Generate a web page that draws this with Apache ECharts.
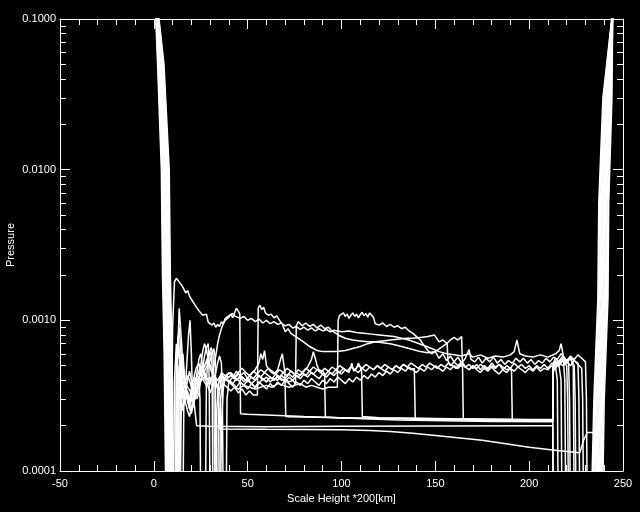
<!DOCTYPE html>
<html>
<head>
<meta charset="utf-8">
<script src="https://cdn.jsdelivr.net/npm/echarts@6/dist/echarts.min.js"></script>
<style>
html,body{margin:0;padding:0;background:#000;}
#chart{width:640px;height:512px;}
</style>
</head>
<body>
<div id="chart"></div>
<script>
// ---- tick labels / axis values ----
const xTickValues = [-50, 0, 50, 100, 150, 200, 250];
const yMajorTicks = [0.0001, 0.001, 0.01, 0.1];
const yMinorTicks = [0.0002,0.0003,0.0004,0.0005,0.0006,0.0007,0.0008,0.0009,
                     0.002,0.003,0.004,0.005,0.006,0.007,0.008,0.009,
                     0.02,0.03,0.04,0.05,0.06,0.07,0.08,0.09];
const xTitle = 'Scale Height *200[km]';
const yTitle = 'Pressure';

// ---- profiles: [scale height, pressure] ----
const s1 = [[0.6,0.2],[0.8,0.12],[2.0,0.05],[4.0,0.01],[4.6,0.002],[5.5,0.0006],[6.5,0.00005],
[9.0,0.00005],[10.0,0.0009],[11.0,0.0018],[12.0,0.0019],[13.5,0.0018],[15,0.0017],[16,0.00165],[17,0.00152],[18,0.00158],[19,0.00145],[20,0.00138],[21,0.0014],[22,0.00126],[23,0.00124],[24,0.00116],[25,0.00119],[26,0.00108],[27,0.00107],[28,0.0011],[29,0.00097],[30,0.001],[31,0.00093],[32,0.00096],[33,0.0009],[34,0.00094],[35,0.00091],[36,0.00098],[37,0.00095],[38,0.00103],[39,0.001],[40,0.00107],[41,0.00105],[42,0.00111],[43,0.00107],[44,0.0011],[46,0.00103],[48,0.00106],[50,0.001],[52,0.00103],[54,0.00098],[56,0.00102],[58,0.00096],[60,0.001],[62,0.00095],[64,0.00098],[66,0.00094],[68,0.00096],[70,0.00092],[72,0.00094],[74,0.00089],[76,0.00091],[78,0.00087],[80,0.0009],[82,0.00086],[84,0.00089],[86,0.00085],[88,0.00088],[90,0.00085],[92,0.00087],[94,0.00084],[96,0.00086],[100,0.00084],[104,0.00085],[108,0.00083],[112,0.00082],[116,0.00081],[120,0.0008],[124,0.00079],[128,0.00078],[132,0.00076],[136,0.00074],[140,0.00071],[144,0.00068],[148,0.00065],[152,0.00062],[156,0.0006],[160,0.00059],[164,0.00058],[168,0.0006],[170,0.00057],[174,0.00059],[178,0.00056],[182,0.00058],[186,0.00057],[190,0.00059],[192,0.00062],[193.5,0.00074],[195,0.0006],[198,0.00058],[202,0.00057],[206,0.00059],[210,0.00057],[214,0.0006],[216,0.00063],[217,0.0007],[218,0.0006],[219,0.0004],[219.5,0.00005],
[236.0,0.00005],[237.3,0.0003],[239.3,0.0014],[239.8,0.006],[241.7,0.03],[244.3,0.1],[245.3,0.2]];

const s2 = [[0.7,0.2],[0.9,0.12],[2.3,0.05],[4.35,0.01],[4.95,0.002],[5.85,0.0006],[6.85,0.00005],
[11.5,0.00005],[12,0.0005],[13,0.0008],[14,0.0005],[15,0.00038],[16,0.00033],[17,0.0003],[18,0.00034],[19,0.00028],[20,0.00032],[21,0.00037],[23,0.00042],[25,0.0005],[27,0.00045],[29,0.0004],[31,0.00037],[33,0.00036],[35,0.00039],[37,0.00042],[39,0.0004],[41,0.00038],[43,0.00036],[45,0.00035],[48,0.00037],[51,0.00036],[54,0.00035],[57,0.00036],[60,0.00037],[63,0.00036],[66,0.00038],[69,0.00037],[72,0.00036],[75,0.00037],[78,0.00038],[81,0.00036],[84,0.00037],[87,0.00036],[90,0.00035],[93,0.00036],[96,0.00036],[97.8,0.00036],[98.2,0.001],[99,0.00108],[100,0.00105],[101,0.00112],[102,0.00106],[103,0.0011],[104,0.00103],[105,0.00108],[106,0.00112],[107,0.00106],[108,0.0011],[109,0.00104],[110,0.00109],[111,0.00113],[112,0.00107],[113,0.00111],[114,0.00105],[115,0.00112],[116,0.00115],[117,0.00105],[118,0.00095],[120,0.00093],[122,0.00096],[124,0.00091],[126,0.00094],[128,0.0009],[130,0.00092],[132,0.00088],[134,0.0009],[136,0.00085],[138,0.00082],[140,0.00078],[142,0.00074],[144,0.00068],[146,0.00063],[148,0.0006],[150,0.00062],[152,0.00056],[154,0.0006],[156,0.00054],[158,0.00058],[160,0.00053],[162,0.00057],[164,0.00052],[166,0.00056],[168,0.00064],[169,0.00055],[171,0.00053],[173,0.00057],[175,0.00052],[177,0.00056],[179,0.00053],[181,0.00057],[183,0.00052],[185,0.00055],[187,0.00051],[189,0.00054],[191,0.00052],[193,0.00056],[195,0.00053],[197,0.00056],[199,0.00052],[201,0.00055],[203,0.00051],[205,0.00054],[207,0.00052],[209,0.00056],[211,0.00053],[213,0.00057],[215,0.00055],[217,0.0006],[219,0.00056],[221,0.00052],[221.5,0.0003],[222,0.00005],
[236.5,0.00005],[237.7,0.0003],[239.8,0.0014],[240.2,0.006],[242.1,0.03],[244.3,0.1],[245.3,0.2]];

const s3 = [[0.8,0.2],[1.0,0.12],[2.6,0.05],[4.7,0.01],[5.3,0.002],[6.2,0.0006],[7.2,0.00005],
[10.5,0.00005],[11,0.0004],[12,0.0007],[13,0.00045],[14,0.00032],[15,0.00025],[16,0.00028],[17,0.00035],[18,0.0003],[19,0.00026],[20,0.0003],[21,0.00036],[22,0.00042],[24,0.00038],[26,0.00041],[28,0.00037],[30,0.0004],[32,0.00043],[34,0.0004],[36,0.00044],[38,0.00041],[40,0.00039],[42,0.00042],[44,0.0004],[46,0.00043],[48,0.00041],[50,0.00039],[52,0.00042],[54,0.0004],[56,0.00043],[58,0.00041],[60,0.00039],[62,0.00042],[64,0.0004],[66,0.00042],[68,0.0004],[70,0.00041],[72,0.00039],[74,0.0004],[75.5,0.00038],[75.9,0.00092],[77,0.00098],[79,0.00092],[81,0.00096],[83,0.00091],[85,0.00094],[87,0.00089],[89,0.00093],[91,0.00088],[93,0.0009],[95,0.00085],[97,0.00082],[99,0.00079],[102,0.00076],[106,0.00074],[110,0.00073],[114,0.00072],[118,0.00072],[122,0.00073],[126,0.00074],[130,0.00075],[134,0.00076],[138,0.00076],[142,0.00077],[146,0.00078],[149.5,0.0008],[152,0.00072],[154,0.00074],[156.3,0.0007],[156.7,0.00054],[158,0.0005],[160,0.00053],[162,0.0005],[164,0.00053],[166,0.00049],[168,0.00051],[170,0.00048],[172,0.00051],[174,0.00047],[176,0.0005],[178,0.00048],[180,0.00052],[182,0.00049],[184,0.00051],[186,0.00047],[188,0.0005],[190,0.00048],[192,0.00052],[194,0.00049],[196,0.00051],[198,0.00048],[200,0.0005],[202,0.00047],[204,0.0005],[206,0.00048],[208,0.00051],[210,0.00048],[212,0.00052],[214,0.0005],[216,0.00054],[218,0.00058],[220,0.00054],[222,0.00056],[224,0.0005],[224.5,0.0003],[225,0.00005],
[237.0,0.00005],[238.2,0.0003],[240.2,0.0014],[240.6,0.006],[242.5,0.03],[244.3,0.1],[245.3,0.2]];

const s4 = [[0.9,0.2],[1.1,0.12],[2.8,0.05],[5.05,0.01],[5.65,0.002],[6.55,0.0006],[7.55,0.00005],
[12,0.00005],[12.5,0.0006],[13.5,0.0009],[14.5,0.0006],[15.5,0.0004],[17,0.00034],[18,0.00029],[19,0.00026],[20,0.00024],[21,0.00028],[22,0.00034],[23,0.00045],[24,0.00055],[25,0.0006],[26,0.0005],[27,0.00042],[29,0.00038],[31,0.0004],[33,0.00037],[35,0.00035],[37,0.00038],[39,0.00036],[41,0.00034],[43,0.00036],[45,0.00033],[47,0.00035],[49,0.00032],[51,0.00034],[53,0.00032],[55.2,0.00032],[55.6,0.0012],[56.5,0.00126],[57.5,0.00118],[58.5,0.00122],[59.5,0.00112],[61,0.00108],[62.5,0.0011],[64,0.00104],[65.5,0.00107],[67,0.001],[68.5,0.00094],[70,0.00084],[71.5,0.00088],[73,0.00082],[75,0.00079],[77,0.00076],[79,0.00073],[81,0.0007],[83,0.00067],[85,0.00065],[87,0.00063],[90,0.00062],[94,0.00062],[98,0.00062],[102,0.00063],[106,0.00065],[110,0.00067],[114,0.0007],[118,0.00072],[122,0.00071],[126,0.0007],[130,0.00068],[134,0.00066],[138,0.00064],[142,0.00062],[146,0.00061],[150,0.00062],[153,0.00066],[156,0.0007],[158,0.00074],[160,0.00077],[162,0.00074],[164,0.00078],[164.4,0.00053],[166,0.00049],[168,0.00047],[170,0.0005],[172,0.00047],[174,0.00045],[176,0.00048],[178,0.00046],[180,0.00049],[182,0.00046],[184,0.00044],[186,0.00047],[188,0.00045],[190,0.00048],[192,0.00046],[194,0.00049],[196,0.00047],[198,0.00045],[200,0.00048],[202,0.00046],[204,0.00049],[206,0.00046],[208,0.00048],[210,0.00047],[212,0.0005],[214,0.00048],[216,0.00052],[218,0.0005],[220,0.00053],[222,0.0005],[224,0.00054],[226,0.00051],[228,0.00048],[228.5,0.0003],[229,0.00005],
[237.5,0.00005],[238.6,0.0003],[240.7,0.0014],[241.1,0.006],[242.9,0.03],[244.4,0.1],[245.4,0.2]];

const s5 = [[1.0,0.2],[1.2,0.12],[3.1,0.05],[5.4,0.01],[6.0,0.002],[6.9,0.0006],[7.9,0.00005],
[13,0.00005],[13.5,0.0005],[14.5,0.0003],[15.5,0.00026],[16.5,0.0003],[17.5,0.0005],[18.5,0.0008],[19.3,0.001],[20,0.0006],[20.5,0.00035],[21.5,0.00028],[22.8,0.0002],[30,0.000198],[60,0.000197],[100,0.000198],[150,0.000199],[200,0.0002],[212.6,0.0002],[212.8,0.00005],
[233.0,0.00005],[234.5,0.0003],[236.6,0.0014],[237.1,0.006],[239.3,0.03],[244.0,0.1],[245.0,0.2]];

const s6 = [[1.1,0.2],[1.3,0.12],[3.4,0.05],[5.75,0.01],[6.35,0.002],[7.25,0.0006],[8.25,0.00005],
[11.5,0.00005],[12,0.0004],[13,0.0007],[14,0.0005],[15,0.00036],[16,0.0003],[17,0.00035],[18,0.0004],[19,0.00046],[20,0.0004],[21,0.00034],[22,0.0003],[23,0.00033],[24,0.0004],[25,0.0005],[26,0.00062],[27,0.0007],[28,0.00064],[29,0.00055],[30,0.00048],[31,0.00045],[32,0.0005],[33,0.00058],[34,0.0007],[35,0.0008],[36,0.00088],[37,0.00095],[38,0.001],[39,0.00098],[40,0.00105],[41,0.0011],[42,0.00104],[43,0.00112],[44,0.0012],[45,0.00115],[45.8,0.0011],[46.2,0.00024],[50,0.000238],[80,0.00023],[130,0.000218],[180,0.000213],[212.6,0.000212],[212.8,0.00045],[214,0.0005],[215,0.0004],[215.5,0.00005],
[233.5,0.00005],[235.0,0.0003],[237.0,0.0014],[237.5,0.006],[239.7,0.03],[244.0,0.1],[245.0,0.2]];

const s7 = [[1.2,0.2],[1.4,0.12],[3.7,0.05],[6.1,0.01],[6.7,0.002],[7.6,0.0006],[8.6,0.00005],
[14,0.00005],[14.5,0.0004],[15.5,0.0006],[16.5,0.0004],[17.5,0.00031],[18.5,0.00028],[19.5,0.00033],[21,0.0004],[22.5,0.00048],[24,0.00052],[25,0.00047],[26,0.00042],[28,0.0004],[30,0.00042],[32,0.00038],[34,0.0004],[36,0.00043],[38,0.00041],[40,0.00045],[42,0.00042],[44,0.00046],[46,0.00043],[48,0.00045],[50,0.00041],[52,0.00044],[54,0.00047],[56,0.00052],[57,0.0006],[58,0.00055],[59,0.00063],[60,0.0005],[62,0.00046],[64,0.00044],[66,0.00047],[67.5,0.00055],[68.5,0.0006],[69.3,0.0005],[69.8,0.00046],[70.3,0.00023],[72,0.000229],[100,0.000226],[150,0.000222],[200,0.00022],[212.6,0.00022],[212.8,0.0005],[214,0.00052],[216,0.00049],[217,0.0004],[217.5,0.00005],
[234.0,0.00005],[235.4,0.0003],[237.5,0.0014],[238.0,0.006],[240.1,0.03],[244.1,0.1],[245.1,0.2]];

const s8 = [[1.3,0.2],[1.5,0.12],[4.0,0.05],[6.45,0.01],[7.05,0.002],[7.95,0.0006],[8.95,0.00005],
[12.5,0.00005],[13,0.0003],[14,0.00045],[15,0.0004],[16,0.00033],[17,0.00028],[18,0.00025],[19,0.00023],[20,0.00026],[21,0.0003],[22,0.00035],[23,0.0003],[24,0.00033],[25,0.0004],[26,0.00048],[27,0.00058],[28,0.00066],[29,0.0007],[29.5,0.0004],[30,0.00005],[33,0.00005],[33.5,0.00025],[34.5,0.00038],[36,0.00045],[38,0.00043],[40,0.00042],[42,0.00044],[44,0.0004],[46,0.00042],[48,0.00039],[50,0.00041],[52,0.00038],[54,0.0004],[56,0.00043],[58,0.0004],[60,0.00042],[62,0.00039],[64,0.00041],[66,0.0004],[68,0.00043],[70,0.00041],[72,0.00044],[74,0.00042],[76,0.00045],[78,0.00043],[80,0.00046],[82,0.00049],[84,0.00055],[85,0.00062],[86,0.00056],[87,0.0005],[88,0.00047],[90,0.00046],[91,0.00044],[91.4,0.000228],[100,0.000225],[150,0.00022],[200,0.000217],[212.6,0.000216],[212.8,0.00005],
[234.5,0.00005],[235.9,0.0003],[237.9,0.0014],[238.4,0.006],[240.5,0.03],[244.1,0.1],[245.1,0.2]];

const s9 = [[1.4,0.2],[1.6,0.12],[4.2,0.05],[6.8,0.01],[7.4,0.002],[8.3,0.0006],[9.3,0.00005],
[12,0.00005],[12.5,0.0005],[13.5,0.0012],[14.5,0.0008],[15.5,0.0005],[16.5,0.0004],[18,0.00036],[20,0.00033],[22,0.00037],[24,0.00042],[26,0.00047],[28,0.00052],[29.5,0.00058],[30.5,0.00062],[31,0.0005],[31.5,0.00005],[34,0.00005],[34.5,0.0003],[36,0.00042],[38,0.0004],[40,0.0004],[42,0.00038],[44,0.00041],[46,0.00039],[48,0.00037],[50,0.0004],[52,0.00038],[54,0.00036],[56,0.00038],[58,0.00041],[60,0.00039],[62,0.00042],[64,0.0004],[66,0.00043],[68,0.00041],[70,0.00039],[72,0.00042],[74,0.0004],[76,0.00043],[78,0.00041],[80,0.00044],[82,0.00042],[84,0.00045],[86,0.00043],[88,0.00041],[90,0.00044],[92,0.00042],[94,0.00045],[96,0.00043],[98,0.00046],[100,0.00044],[102,0.00047],[104,0.00045],[105.5,0.00052],[106.5,0.00046],[108,0.00048],[109,0.00052],[110,0.00049],[110.7,0.00046],[111.1,0.00023],[120,0.000226],[160,0.000222],[200,0.000219],[212.6,0.000218],[212.8,0.00047],[214,0.00052],[216,0.0005],[218,0.00054],[220,0.0005],[220.5,0.0003],[221,0.00005],
[235.0,0.00005],[236.3,0.0003],[238.4,0.0014],[238.9,0.006],[240.9,0.03],[244.2,0.1],[245.2,0.2]];

const s10 = [[1.5,0.2],[1.7,0.12],[4.5,0.05],[7.15,0.01],[7.75,0.002],[8.65,0.0006],[9.65,0.00005],
[13,0.00005],[13.5,0.0004],[14.5,0.0006],[15.5,0.00045],[17,0.00035],[19,0.0003],[21,0.00034],[23,0.00039],[25,0.00044],[27,0.0005],[28.5,0.00056],[29.5,0.0006],[30.5,0.00066],[31.5,0.0006],[32,0.0004],[32.5,0.00005],[35,0.00005],[35.5,0.0003],[37,0.0004],[39,0.00041],[41,0.00043],[43,0.00041],[45,0.00044],[47,0.00042],[49,0.0004],[51,0.00043],[53,0.00041],[55,0.00044],[57,0.00042],[59,0.00045],[61,0.00043],[63,0.00041],[65,0.00044],[67,0.00042],[69,0.00045],[71,0.00043],[73,0.00046],[75,0.00044],[77,0.00042],[79,0.00045],[81,0.00043],[83,0.00046],[85,0.00044],[87,0.00047],[89,0.00045],[91,0.00043],[93,0.00046],[95,0.00044],[97,0.00047],[99,0.00045],[101,0.00048],[103,0.00046],[105,0.00049],[107,0.00047],[109,0.00045],[111,0.00048],[113,0.00046],[115,0.00049],[117,0.00047],[119,0.0005],[121,0.00048],[123,0.00046],[125,0.00049],[127,0.00047],[129,0.0005],[131,0.00048],[133,0.00051],[135,0.00049],[137,0.00047],[138.8,0.00048],[139.3,0.000222],[160,0.000219],[200,0.000216],[212.6,0.000215],[212.8,0.00049],[214,0.00053],[216,0.00051],[218,0.00055],[220,0.00052],[222,0.00056],[223.5,0.0005],[224,0.00005],
[235.5,0.00005],[236.8,0.0003],[238.9,0.0014],[239.3,0.006],[241.3,0.03],[244.2,0.1],[245.2,0.2]];

const s11 = [[1.6,0.2],[1.85,0.12],[4.8,0.05],[7.5,0.01],[8.1,0.002],[9.0,0.0006],[10.0,0.00005],
[14,0.00005],[14.5,0.0003],[15.5,0.0005],[16.5,0.0004],[18,0.00032],[20,0.00029],[22,0.00033],[24,0.00038],[26,0.00043],[28,0.00049],[30,0.00054],[31,0.0006],[32,0.00065],[32.8,0.00055],[33.2,0.00005],[35.5,0.00005],[36,0.0002],[37,0.00035],[38,0.00042],[39,0.00044],[41,0.00045],[43,0.00042],[45,0.00045],[47,0.00048],[49,0.00045],[51,0.00043],[53,0.00046],[55,0.00044],[57,0.00047],[59,0.00045],[61,0.00048],[63,0.00046],[65,0.00044],[67,0.00047],[69,0.00045],[71,0.00048],[73,0.00046],[75,0.00044],[77,0.00047],[79,0.00045],[81,0.00048],[83,0.00046],[85,0.00049],[87,0.00047],[89,0.00045],[91,0.00048],[93,0.00046],[95,0.00049],[97,0.00047],[99,0.0005],[101,0.00048],[103,0.00046],[105,0.00049],[107,0.00047],[109,0.0005],[111,0.00048],[113,0.00051],[115,0.00049],[117,0.00047],[119,0.0005],[121,0.00048],[123,0.00051],[125,0.00049],[127,0.00047],[129,0.0005],[131,0.00048],[133,0.00051],[135,0.00049],[137,0.00052],[139,0.0005],[141,0.00048],[143,0.00051],[145,0.00049],[147,0.00052],[149,0.0005],[151,0.00048],[153,0.00051],[155,0.00049],[157,0.00052],[159,0.0005],[161,0.00048],[163,0.00051],[164.5,0.00049],[164.9,0.00022],[180,0.000218],[200,0.000215],[212.6,0.000214],[212.8,0.0005],[214,0.00054],[216,0.00052],[218,0.00056],[220,0.00053],[222,0.00057],[224,0.00054],[226,0.00052],[226.5,0.0003],[227,0.00005],
[238.0,0.00005],[239.1,0.0003],[241.1,0.0014],[241.5,0.006],[243.3,0.03],[244.4,0.1],[245.4,0.2]];

const s12 = [[1.7,0.2],[1.95,0.12],[5.1,0.05],[7.85,0.01],[8.45,0.002],[9.35,0.0006],[10.35,0.00005],
[15.5,0.00005],[16,0.0003],[17,0.00035],[18,0.00031],[19,0.00027],[20,0.00025],[21,0.00027],[22,0.00031],[23,0.00036],[24,0.00041],[25,0.00046],[26,0.0005],[27,0.00046],[28,0.0004],[29,0.00036],[30,0.00033],[31,0.00036],[32,0.0004],[33,0.00045],[34,0.00052],[35,0.00058],[36,0.00052],[36.5,0.00035],[37,0.00005],[38.5,0.00005],[39,0.0003],[40,0.0004],[42,0.00038],[44,0.00036],[46,0.00039],[48,0.00037],[50,0.00035],[52,0.00038],[54,0.00036],[56,0.00039],[58,0.00037],[60,0.00035],[62,0.00038],[64,0.00036],[66,0.00039],[68,0.00037],[70,0.0004],[72,0.00038],[74,0.00036],[76,0.00039],[78,0.00037],[80,0.0004],[82,0.00038],[84,0.00041],[86,0.00039],[88,0.00037],[90,0.0004],[92,0.00038],[94,0.00041],[96,0.00039],[98,0.00042],[100,0.0004],[102,0.00038],[104,0.00041],[106,0.00039],[108,0.00042],[110,0.0004],[112,0.00043],[114,0.00041],[116,0.00044],[118,0.00042],[120,0.00045],[122,0.00043],[124,0.00046],[126,0.00044],[128,0.00047],[130,0.00045],[132,0.00048],[134,0.00046],[136,0.00049],[138,0.00047],[140,0.00045],[142,0.00048],[144,0.00046],[146,0.00049],[148,0.00047],[150,0.0005],[152,0.00048],[154,0.00046],[156,0.00049],[158,0.00047],[160,0.0005],[162,0.00048],[164,0.00051],[166,0.00049],[168,0.00047],[170,0.0005],[172,0.00048],[174,0.00051],[176,0.00049],[178,0.00047],[180,0.0005],[182,0.00048],[184,0.00051],[186,0.00049],[188,0.00047],[190,0.00048],[190.6,0.00046],[191,0.00022],[200,0.000218],[212.6,0.000217],[212.8,0.00052],[214,0.00056],[216,0.00053],[218,0.00057],[220,0.00054],[222,0.00058],[224,0.00055],[226,0.00059],[228,0.00056],[230,0.00053],[230.5,0.0003],[231,0.00005],
[238.5,0.00005],[239.5,0.0003],[241.6,0.0014],[242.0,0.006],[243.7,0.03],[244.5,0.1],[245.5,0.2]];

const s13 = [[1.8,0.2],[2.05,0.12],[5.4,0.05],[8.2,0.01],[8.8,0.002],[9.7,0.0006],[10.7,0.00005],
[13.5,0.00005],[14,0.0002],[15,0.0003],[16,0.00036],[17,0.0004],[18,0.00043],[19,0.0004],[20,0.00036],[21,0.00032],[22,0.0003],[23,0.00033],[24,0.0004],[24.6,0.0003],[25,0.00005],[27.5,0.00005],[28,0.0004],[29,0.00058],[30,0.0005],[31,0.00045],[32,0.00042],[33,0.0004],[34,0.00035],[34.8,0.00025],[35.2,0.00019],[60,0.000189],[100,0.000188],[115,0.000186],[126,0.000183],[138,0.000178],[150,0.000172],[175,0.00016],[200,0.000144],[215,0.000137],[227,0.000132],[229,0.00016],[231,0.00018],[234,0.00018],[236,0.00016],[237,0.00005],
[239.0,0.00005],[240.0,0.0003],[242.0,0.0014],[242.4,0.006],[244.1,0.03],[244.5,0.1],[245.5,0.2]];

const profiles = [s1, s2, s3, s4, s5, s6, s7, s8, s9, s10, s11, s12, s13];

// ---- chart ----
const WHITE = '#ffffff';
const FONT = 'Liberation Sans';
const chart = echarts.init(document.getElementById('chart'), null, {renderer: 'canvas'});

function xAxisDef(pos, withLabels) {
  return {
    type: 'value', position: pos, min: -50, max: 250, interval: 50,
    name: withLabels ? xTitle : '', nameLocation: 'middle', nameGap: 20,
    nameTextStyle: {color: WHITE, fontSize: 11, fontFamily: FONT},
    axisLine: {show: true, onZero: false, lineStyle: {color: WHITE, width: 1}},
    axisTick: {show: true, inside: true, length: 10, lineStyle: {color: WHITE}},
    minorTick: {show: true, splitNumber: 5, length: 6, lineStyle: {color: WHITE}},
    axisLabel: {show: withLabels, color: WHITE, fontSize: 11, fontFamily: FONT, margin: 7,
      customValues: xTickValues},
    splitLine: {show: false}, minorSplitLine: {show: false}
  };
}
function yAxisDef(pos, major, withLabels) {
  return {
    type: 'log', logBase: 10, position: pos, min: 0.0001, max: 0.1,
    name: withLabels ? yTitle : '', nameLocation: 'middle', nameGap: 44, nameRotate: 90,
    nameMoveOverlap: false,
    nameTextStyle: {color: WHITE, fontSize: 11, fontFamily: FONT},
    axisLine: {show: major, onZero: false, lineStyle: {color: WHITE, width: 1}},
    axisTick: {show: true, inside: true, length: major ? 10 : 6,
      customValues: major ? yMajorTicks : yMinorTicks, lineStyle: {color: WHITE}},
    axisLabel: {show: withLabels, color: WHITE, fontSize: 11, fontFamily: FONT, margin: 4,
      customValues: yMajorTicks,
      formatter: v => Number(v).toFixed(4)},
    splitLine: {show: false}
  };
}

const option = {
  backgroundColor: '#000000',
  animation: false,
  grid: {left: 60, right: 17, top: 19, bottom: 41, containLabel: false, outerBoundsMode: 'none'},
  xAxis: [xAxisDef('bottom', true), xAxisDef('top', false)],
  yAxis: [yAxisDef('left', true, true), yAxisDef('left', false, false),
          yAxisDef('right', true, false), yAxisDef('right', false, false)],
  series: profiles.map((d, i) => ({
    type: 'line', name: 'p' + (i + 1), data: d, xAxisIndex: 0, yAxisIndex: 0,
    showSymbol: false, symbol: 'none', clip: true, silent: true,
    lineStyle: {color: WHITE, width: 1.5}
  }))
};
chart.setOption(option);
</script>
</body>
</html>
